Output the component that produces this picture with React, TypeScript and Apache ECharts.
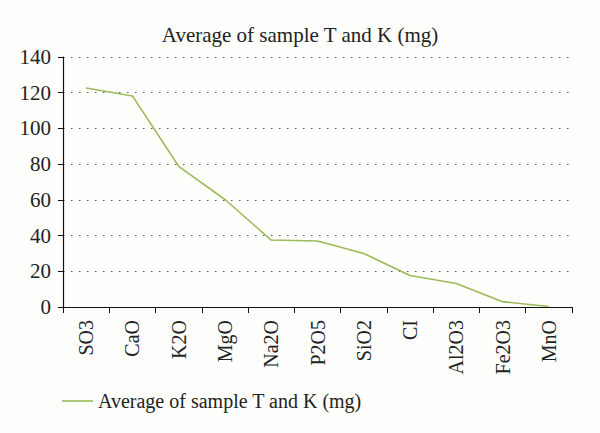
import React, { useEffect, useRef } from "react";
import * as echarts from "echarts";

const categories = ["SO3", "CaO", "K2O", "MgO", "Na2O", "P2O5", "SiO2", "CI", "Al2O3", "Fe2O3", "MnO"];
const values = [122.6, 118.2, 78.8, 60.2, 37.5, 37.0, 30.0, 17.6, 13.2, 3.0, 0.3];
const yTicks = [0, 20, 40, 60, 80, 100, 120, 140];
const seriesName = "Average of sample T and K (mg)";
const titleText = "Average of sample T and K (mg)";

const FONT = "'Liberation Serif', 'DejaVu Serif', serif";

export default function App() {
  const ref = useRef<HTMLDivElement>(null);
  useEffect(() => {
    if (!ref.current) return;
    const chart = echarts.init(ref.current, undefined, { renderer: "svg" });
    chart.setOption({
      animation: false,
      backgroundColor: "#fefefc",
      title: {
        text: titleText,
        left: "center",
        top: 19,
        textStyle: { fontFamily: FONT, fontSize: 21, fontWeight: "normal", color: "#222" },
      },
      grid: { left: 63, right: 28, top: 57, bottom: 126 },
      legend: {
        left: 57,
        top: 386,
        icon: "rect",
        itemWidth: 31,
        itemHeight: 1.6,
        itemGap: 10,
        textStyle: { fontFamily: FONT, fontSize: 20, color: "#222" },
      },
      xAxis: {
        type: "category",
        data: categories,
        boundaryGap: true,
        axisLine: { lineStyle: { color: "#111", width: 1.2 } },
        axisTick: { show: true, length: 6, alignWithLabel: false, lineStyle: { color: "#111" } },
        axisLabel: {
          rotate: 90,
          margin: 13,
          interval: 0,
          fontFamily: FONT,
          fontSize: 20,
          color: "#222",
        },
      },
      yAxis: {
        type: "value",
        min: yTicks[0],
        max: yTicks[yTicks.length - 1],
        interval: 20,
        axisLine: { show: true, lineStyle: { color: "#111", width: 1.2 } },
        axisTick: { show: true, length: 5, lineStyle: { color: "#111" } },
        axisLabel: { fontFamily: FONT, fontSize: 21, color: "#222", margin: 12 },
        splitLine: {
          show: true,
          lineStyle: { color: "#555", width: 1, type: [1.5, 6.5] },
        },
      },
      series: [
        {
          name: seriesName,
          type: "line",
          data: values,
          symbol: "none",
          lineStyle: { color: "#9bbb59", width: 1.6 },
          itemStyle: { color: "#9bbb59" },
        },
      ],
    });
    return () => chart.dispose();
  }, []);
  return <div ref={ref} style={{ position: "fixed", left: 0, top: 0, width: 600, height: 433 }} />;
}
